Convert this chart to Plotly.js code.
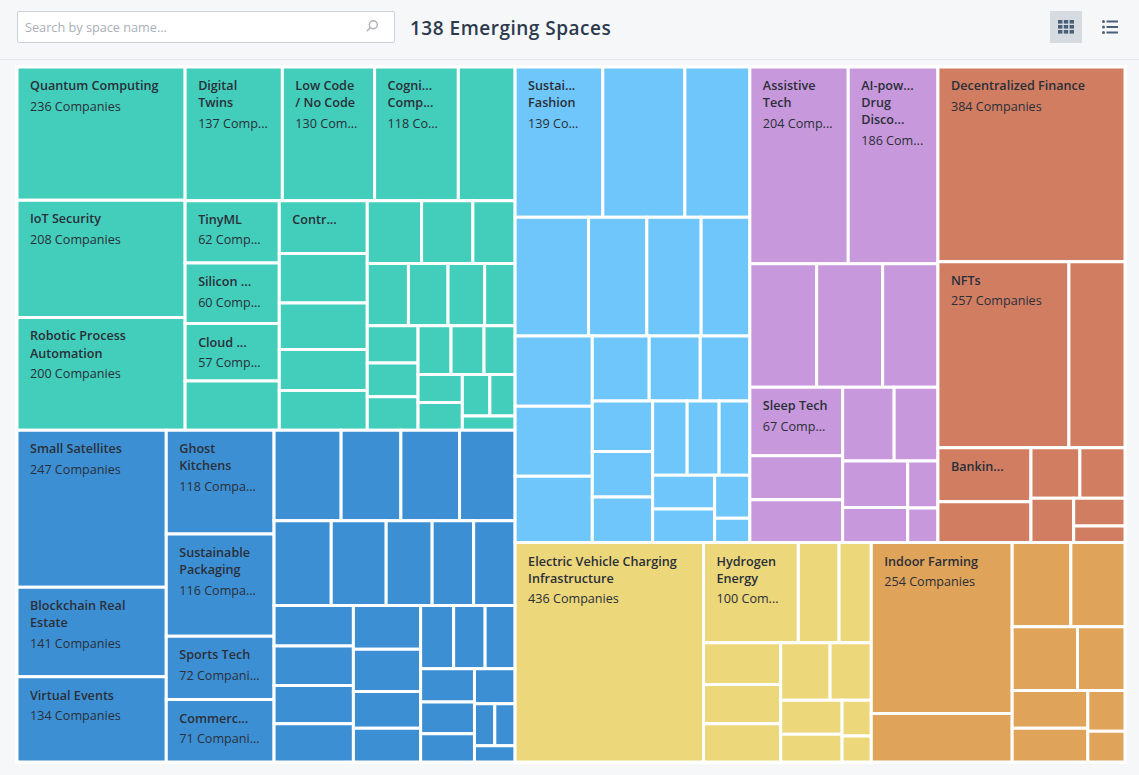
<!DOCTYPE html>
<html><head><meta charset="utf-8">
<script src="https://cdn.plot.ly/plotly-3.0.1.min.js"></script>
<style>
html,body{margin:0;padding:0;width:1139px;height:775px;overflow:hidden;background:#f6f7f9;font-family:"Open Sans",sans-serif}
#rule{position:absolute;left:0;top:59px;width:1139px;height:1px;background:#e3e5e8}
#sheet{position:absolute;left:16px;top:66px;width:1110px;height:698px;background:#fff}
#chart{position:absolute;left:0;top:0;width:1139px;height:775px}
#search{position:absolute;left:17px;top:11px;width:376px;height:30px;background:#fff;border:1px solid #ccd1d8;border-radius:2px;box-sizing:content-box;z-index:3;color:#a9afb8;font-size:12.7px;line-height:31px;text-indent:7px}
#search svg{position:absolute;right:15px;top:7px}
#gridbtn{position:absolute;left:1050px;top:11px;width:32px;height:32px;background:#d6dbe1;z-index:3}
#gridbtn svg,#listbtn svg{position:absolute;left:8px;top:8px}
#listbtn{position:absolute;left:1094px;top:11px;width:32px;height:32px;z-index:3}
</style></head><body>
<div id="rule"></div><div id="sheet"></div>
<div id="chart"></div>
<div id="search">Search by space name...<svg width="14" height="14" viewBox="0 0 14 14" fill="none" stroke="#aab0b8" stroke-width="1.4"><circle cx="8.3" cy="5.7" r="4"/><path d="M5.4 8.6 1.8 12.2"/></svg></div>
<div id="gridbtn"><svg width="16" height="16" viewBox="0 0 16 16" fill="#4a5f78"><rect x="0" y="1" width="4.4" height="3.6"/><rect x="5.8" y="1" width="4.4" height="3.6"/><rect x="11.6" y="1" width="4.4" height="3.6"/><rect x="0" y="6" width="4.4" height="3.6"/><rect x="5.8" y="6" width="4.4" height="3.6"/><rect x="11.6" y="6" width="4.4" height="3.6"/><rect x="0" y="11" width="4.4" height="3.6"/><rect x="5.8" y="11" width="4.4" height="3.6"/><rect x="11.6" y="11" width="4.4" height="3.6"/></svg></div>
<div id="listbtn"><svg width="16" height="16" viewBox="0 0 16 16" fill="#4a5f78"><circle cx="1.5" cy="2.5" r="1.5"/><circle cx="1.5" cy="8" r="1.5"/><circle cx="1.5" cy="13.5" r="1.5"/><rect x="4.5" y="1.5" width="11.5" height="2"/><rect x="4.5" y="7" width="11.5" height="2"/><rect x="4.5" y="12.5" width="11.5" height="2"/></svg></div>
<script>
var chartTitle = "138 Emerging Spaces";
var groupKeys = ["teal","blue","sky","purple","terracotta","yellow","orange"];
var groupColors = ["#43cdbb","#3d8fd4","#6fc6fa","#c898dc","#d07d62","#ecd77b","#dfa35a"];

var tealValues = [236,208,200,137,130,118,80,62,60,57,49,49,46,43,38,37,36,34,28,27,26,24,20,20,18,18,17,17,16,13,13,12,11,8];
var tealNames = ["Quantum Computing","IoT Security","Robotic Process<br>Automation","Digital<br>Twins","Low Code<br>/ No Code","Cogni...<br>Comp...","","TinyML","Silicon ...","Cloud ...","","Contr..."];
var tealCounts = ["236 Companies","208 Companies","200 Companies","137 Comp...","130 Com...","118 Co...","","62 Comp...","60 Comp...","57 Comp...","",""];

var blueValues = [247,141,134,118,116,72,71,64,57,56,53,51,49,41,37,37,34,33,32,32,31,30,26,24,22,21,20,19,18,16,15,9,9,7];
var blueNames = ["Small Satellites","Blockchain Real<br>Estate","Virtual Events","Ghost<br>Kitchens","Sustainable<br>Packaging","Sports Tech","Commerc..."];
var blueCounts = ["247 Companies","141 Companies","134 Companies","118 Compa...","116 Compa...","72 Compani...","71 Compani..."];

var skyValues = [139,130,103,92,73,68,61,57,57,54,39,35,34,32,29,29,27,25,24,22,22,16,9];
var skyNames = ["Sustai...<br>Fashion"];
var skyCounts = ["139 Co..."];

var purpleValues = [204,186,87,86,72,67,43,42,40,34,32,24,15,11];
var purpleNames = ["Assistive<br>Tech","AI-pow...<br>Drug<br>Disco...","","","","Sleep Tech"];
var purpleCounts = ["204 Comp...","186 Com...","","","","67 Comp..."];

var terracottaValues = [384,257,110,53,40,26,24,20,15,9];
var terracottaNames = ["Decentralized Finance","NFTs","","Bankin..."];
var terracottaCounts = ["384 Companies","257 Companies","",""];

var yellowValues = [436,100,43,34,34,32,31,30,25,22,18,11,8];
var yellowNames = ["Electric Vehicle Charging<br>Infrastructure","Hydrogen<br>Energy"];
var yellowCounts = ["436 Companies","100 Com..."];

var orangeValues = [254,72,52,48,44,32,30,27,16,12];
var orangeNames = ["Indoor Farming"];
var orangeCounts = ["254 Companies"];

var groupValues = [tealValues,blueValues,skyValues,purpleValues,terracottaValues,yellowValues,orangeValues];
var groupNames = [tealNames,blueNames,skyNames,purpleNames,terracottaNames,yellowNames,orangeNames];
var groupCounts = [tealCounts,blueCounts,skyCounts,purpleCounts,terracottaCounts,yellowCounts,orangeCounts];

var ids=["root"],parents=[""],labels=["Emerging Spaces"],values=[0],texts=[""],colors=["#ffffff"];
groupKeys.forEach(function(k,g){
  ids.push(k);parents.push("root");labels.push(k);values.push(0);texts.push("");colors.push(groupColors[g]);
  groupValues[g].forEach(function(v,i){
    var n=groupNames[g][i]||"",c=groupCounts[g][i]||"";
    var t=n?'<span style="font-weight:600">'+n+'</span>'+(c?'<br>'+c:''):'';
    ids.push(k+"-"+i);parents.push(k);labels.push(n.replace(/<br>/g," ")||(k+" "+(i+1)));values.push(v);texts.push(t);colors.push(groupColors[g]);
  });
});

var data=[{type:"treemap",ids:ids,parents:parents,labels:labels,values:values,text:texts,branchvalues:"remainder",
  textinfo:"text",textposition:"top left",hoverinfo:"label+value",
  textfont:{family:"Open Sans, sans-serif",size:12.6,color:"#2a2f38"},
  marker:{colors:colors,line:{color:"#ffffff",width:3},pad:{t:0,l:0,r:0,b:0}},
  tiling:{packing:"squarify",squarifyratio:1.618034,pad:0},
  pathbar:{visible:false},root:{color:"#ffffff"}}];
var layout={width:1139,height:775,margin:{l:17,r:13.5,t:67,b:12.5,autoexpand:false},
  paper_bgcolor:"rgba(0,0,0,0)",plot_bgcolor:"rgba(0,0,0,0)",
  title:{text:chartTitle,x:410/1139,xanchor:"left",y:1-28/775,yanchor:"middle",font:{family:"Open Sans, sans-serif",size:19,color:"#2c3a4d",weight:600}}};
function nudge(){
  var gt=document.querySelector("#chart .gtitle");if(gt)gt.style.letterSpacing="0.5px";
  document.querySelectorAll("#chart text.slicetext").forEach(function(t){
    if(!t.textContent)return;
    var tf=t.getAttribute("transform")||"";
    if(t.dataset.moved)return;t.dataset.moved="1";
    t.setAttribute("transform","translate(10,7) "+tf);
    var ls=t.querySelectorAll("tspan.line");
    ls.forEach(function(l,i){
      var y=parseFloat(l.getAttribute("y")||0)+0.8*i;
      if(i>0&&i===ls.length-1)y+=3.4;
      l.setAttribute("y",y);
    });
  });
}
Plotly.newPlot("chart",data,layout,{displayModeBar:false}).then(nudge);
</script></body></html>
